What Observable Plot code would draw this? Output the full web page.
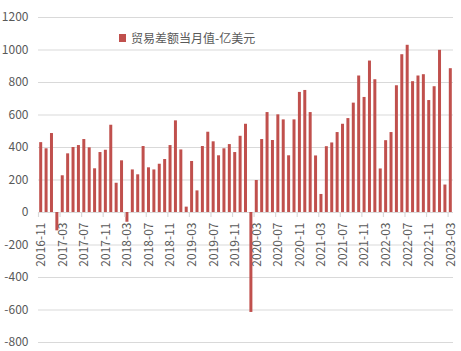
<!DOCTYPE html>
<html><head><meta charset="utf-8">
<script src="https://cdn.jsdelivr.net/npm/d3@7"></script>
<script src="https://cdn.jsdelivr.net/npm/@observablehq/plot@0.6"></script>
<style>
body{margin:0;background:#fff;}
#wrap{position:relative;width:461px;height:351px;font-family:"Noto Sans CJK SC","Noto Sans",sans-serif;}
#legend{position:absolute;left:119px;top:29px;display:flex;align-items:center;font-size:12px;line-height:17px;color:#595959;white-space:nowrap;}
#legend .sw{display:inline-block;width:7px;height:8px;background:#c0504d;margin-right:5px;}
</style></head><body>
<div id="wrap"><div id="legend"><span class="sw"></span><span id="lt"></span></div></div>
<script>
const seriesName = "贸易差额当月值-亿美元";
const months = [
"2016-11","2016-12",
"2017-01","2017-02","2017-03","2017-04","2017-05","2017-06","2017-07","2017-08","2017-09","2017-10","2017-11","2017-12",
"2018-01","2018-02","2018-03","2018-04","2018-05","2018-06","2018-07","2018-08","2018-09","2018-10","2018-11","2018-12",
"2019-01","2019-02","2019-03","2019-04","2019-05","2019-06","2019-07","2019-08","2019-09","2019-10","2019-11","2019-12",
"2020-01","2020-02","2020-03","2020-04","2020-05","2020-06","2020-07","2020-08","2020-09","2020-10","2020-11","2020-12",
"2021-01","2021-02","2021-03","2021-04","2021-05","2021-06","2021-07","2021-08","2021-09","2021-10","2021-11","2021-12",
"2022-01","2022-02","2022-03","2022-04","2022-05","2022-06","2022-07","2022-08","2022-09","2022-10","2022-11","2022-12",
"2023-01","2023-02","2023-03"];
const values = [
430,392,
486,-113,226,361,400,412,449,398,269,369,383,537,
180,318,-60,262,232,406,275,262,297,326,412,564,
385,33,314,133,406,494,435,349,392,418,369,469,
543,-615,197,449,615,443,601,570,349,570,739,751,
615,348,111,405,428,492,543,578,673,840,708,932,
817,268,442,492,780,971,1029,805,840,848,689,774,
998,169,885];
const tickLabels = ["2016-11","2017-03","2017-07","2017-11","2018-03","2018-07","2018-11","2019-03","2019-07","2019-11","2020-03","2020-07","2020-11","2021-03","2021-07","2021-11","2022-03","2022-07","2022-11","2023-03"];
const yTicks = [-800,-600,-400,-200,0,200,400,600,800,1000,1200];

document.getElementById("lt").textContent = seriesName;
const data = months.map((m, i) => ({m, i, v: values[i]}));
const ticks = tickLabels.map(t => ({t, i: months.indexOf(t)}));
const font = '"Noto Sans CJK SC","Noto Sans",sans-serif';

const chart = Plot.plot({
  width: 461, height: 351,
  marginLeft: 38, marginRight: 8, marginTop: 17, marginBottom: 9,
  style: {fontFamily: font, fontSize: "12px", color: "#595959", background: "transparent"},
  x: {domain: [0, months.length], axis: null},
  y: {domain: [-800, 1200]},
  marks: [
    Plot.gridY(yTicks, {stroke: "#d9d9d9", strokeOpacity: 1, strokeWidth: 1.2}),
    Plot.axisY(yTicks, {tickSize: 0, tickPadding: 10, fill: "#595959", fontSize: 12, label: null, tickFormat: d => String(d)}),
    Plot.rect(data, {x1: "i", x2: d => d.i + 1, y1: d => 0, y2: "v", fill: "#c0504d", insetLeft: 1.2, insetRight: 1.2}),
    Plot.ruleX(ticks, {x: "i", y1: d => 0, y2: d => 0, insetTop: 0, insetBottom: -5, stroke: "#d9d9d9", strokeWidth: 1.2}),
    Plot.text(ticks, {x: d => d.i + 0.5, y: d => 0, text: "t", rotate: -90, textAnchor: "end", dy: 10, fill: "#595959", fontSize: 12})
  ]
});
document.getElementById("wrap").prepend(chart);
</script>
</body></html>
